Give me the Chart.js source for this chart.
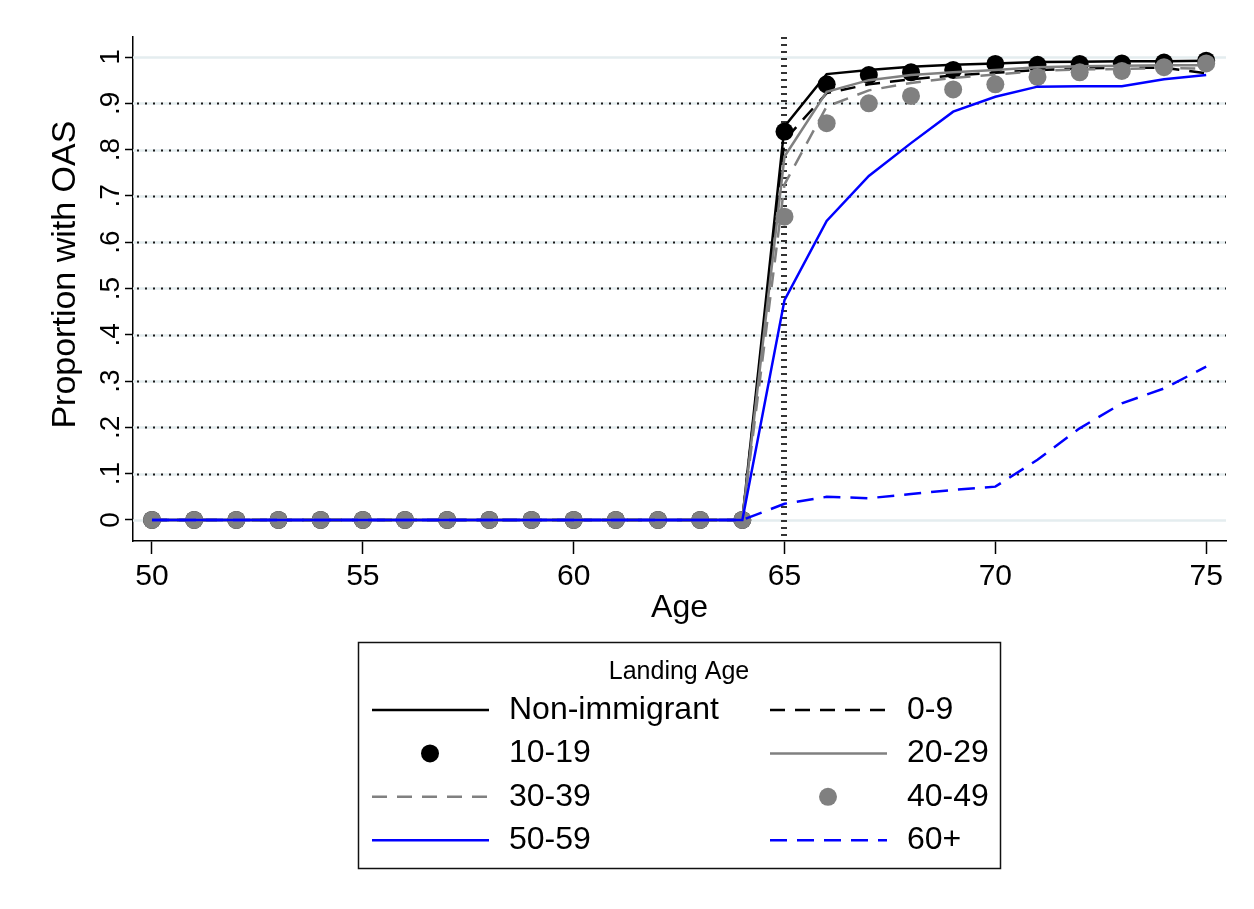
<!DOCTYPE html>
<html>
<head>
<meta charset="utf-8">
<title>Proportion with OAS by age</title>
<script src="https://cdn.jsdelivr.net/npm/chart.js@4.4.1/dist/chart.umd.min.js"></script>
<style>
  html, body { margin: 0; padding: 0; background: #fff; }
</style>
</head>
<body>
<canvas id="oas" width="1254" height="909"></canvas>
<script>
// ages on the x axis
const ages = [50, 51, 52, 53, 54, 55, 56, 57, 58, 59, 60, 61, 62, 63, 64,
              65, 66, 67, 68, 69, 70, 71, 72, 73, 74, 75];
const zeros = [0, 0, 0, 0, 0, 0, 0, 0, 0, 0, 0, 0, 0, 0, 0]; // ages 50-64

// proportion receiving OAS, by landing age group (ages 65-75)
const nonImmigrant = zeros.concat([0.85, 0.963, 0.972, 0.979, 0.983, 0.986, 0.989, 0.99, 0.991, 0.991, 0.992]);
const land0to9     = zeros.concat([0.82, 0.922, 0.941, 0.952, 0.96, 0.966, 0.972, 0.975, 0.977, 0.977, 0.965]);
const land10to19   = zeros.concat([0.839, 0.941, 0.961, 0.967, 0.972, 0.985, 0.983, 0.985, 0.986, 0.988, 0.992]);
const land20to29   = zeros.concat([0.785, 0.925, 0.95, 0.961, 0.967, 0.972, 0.978, 0.98, 0.981, 0.982, 0.982]);
const land30to39   = zeros.concat([0.725, 0.893, 0.928, 0.944, 0.955, 0.962, 0.97, 0.973, 0.974, 0.976, 0.975]);
const land40to49   = zeros.concat([0.655, 0.857, 0.9, 0.916, 0.93, 0.941, 0.957, 0.967, 0.97, 0.978, 0.986]);
const land50to59   = zeros.concat([0.475, 0.646, 0.743, 0.814, 0.882, 0.914, 0.936, 0.937, 0.937, 0.952, 0.961]);
const land60plus   = zeros.concat([0.035, 0.05, 0.047, 0.056, 0.065, 0.072, 0.13, 0.198, 0.252, 0.284, 0.331]);

const xTicks = [50, 55, 60, 65, 70, 75];
const yTicks = [0, 0.1, 0.2, 0.3, 0.4, 0.5, 0.6, 0.7, 0.8, 0.9, 1];
const yTickLabels = ['0', '.1', '.2', '.3', '.4', '.5', '.6', '.7', '.8', '.9', '1'];
const eligibleAge = 65;
const yTitle = 'Proportion with OAS';

const FONT = "'Liberation Sans', Arial, Helvetica, sans-serif";
const GRAY = '#808080';
const BLUE = '#0000ff';

function pts(vals) {
  return vals.map((v, i) => ({ x: ages[i], y: v }));
}
function lineSet(label, vals, color, dash, order) {
  return {
    label, data: pts(vals), order,
    borderColor: color, backgroundColor: color,
    borderWidth: 2.5, borderDash: dash, tension: 0,
    pointRadius: 0, pointHoverRadius: 0
  };
}
function dotSet(label, vals, color, order) {
  return {
    label, data: pts(vals), order, showLine: false,
    borderColor: color, backgroundColor: color,
    pointBackgroundColor: color, pointBorderWidth: 0,
    pointRadius: 9, pointHoverRadius: 9
  };
}

// dotted stata-style grid, the reference line at 65 and the y title
const gridLines = {
  id: 'gridLines',
  beforeDatasetsDraw(chart) {
    const { ctx, chartArea: a, scales: { x, y } } = chart;
    ctx.save();
    yTicks.forEach(v => {
      const py = Math.round(y.getPixelForValue(v)) + 0.5;
      ctx.setLineDash([]);
      ctx.strokeStyle = '#e4edef';
      ctx.lineWidth = 2.5;
      ctx.beginPath(); ctx.moveTo(a.left, py); ctx.lineTo(a.right, py); ctx.stroke();
      if (v > 0 && v < 1) {
        ctx.setLineDash([2, 6]);
        ctx.strokeStyle = '#1a1a1a';
        ctx.lineWidth = 2;
        ctx.beginPath(); ctx.moveTo(a.left + 4, py); ctx.lineTo(a.right, py); ctx.stroke();
      }
    });
    const px = Math.round(x.getPixelForValue(eligibleAge));
    ctx.setLineDash([2, 5]);
    ctx.strokeStyle = '#333';
    ctx.lineWidth = 6;
    ctx.beginPath(); ctx.moveTo(px, a.top); ctx.lineTo(px, a.bottom); ctx.stroke();

    // axis title, read bottom to top
    ctx.setLineDash([]);
    ctx.translate(66, y.getPixelForValue(0.53));
    ctx.rotate(-Math.PI / 2);
    ctx.fillStyle = '#000';
    ctx.font = '34px ' + FONT;
    ctx.textAlign = 'center';
    ctx.textBaseline = 'middle';
    ctx.fillText(yTitle, 0, 0);
    ctx.restore();
  }
};

// two-column boxed legend under the plot
const boxLegend = {
  id: 'boxLegend',
  afterDraw(chart) {
    const ctx = chart.ctx;
    const sets = chart.data.datasets;
    ctx.save();
    ctx.fillStyle = '#fff';
    ctx.fillRect(358, 642, 642, 226);
    ctx.strokeStyle = '#111';
    ctx.lineWidth = 1.5;
    ctx.strokeRect(358.5, 642.5, 642, 226);

    ctx.fillStyle = '#000';
    ctx.textBaseline = 'middle';
    ctx.textAlign = 'center';
    ctx.font = '25px ' + FONT;
    ctx.fillText('Landing Age', 679, 672);

    ctx.font = '32px ' + FONT;
    ctx.textAlign = 'left';
    sets.forEach((ds, i) => {
      const col = i % 2;
      const row = Math.floor(i / 2);
      const sx = col ? 770 : 372;
      const tx = col ? 907 : 509;
      const cy = 710 + row * 43.4;
      if (ds.showLine === false) {
        ctx.fillStyle = ds.pointBackgroundColor;
        ctx.beginPath(); ctx.arc(sx + 58, cy, 9, 0, Math.PI * 2); ctx.fill();
      } else {
        ctx.strokeStyle = ds.borderColor;
        ctx.lineWidth = ds.borderWidth;
        ctx.setLineDash(ds.borderDash || []);
        ctx.beginPath(); ctx.moveTo(sx, cy); ctx.lineTo(sx + 117, cy); ctx.stroke();
        ctx.setLineDash([]);
      }
      ctx.fillStyle = '#000';
      ctx.fillText(ds.label, tx, cy);
    });
    ctx.restore();
  }
};

const datasets = [
  lineSet('Non-immigrant', nonImmigrant, '#000', [], 7),
  lineSet('0-9', land0to9, '#000', [15, 10], 6),
  dotSet('10-19', land10to19, '#000', 5),
  lineSet('20-29', land20to29, GRAY, [], 4),
  lineSet('30-39', land30to39, GRAY, [15, 10], 3),
  dotSet('40-49', land40to49, GRAY, 2),
  lineSet('50-59', land50to59, BLUE, [], 1),
  lineSet('60+', land60plus, BLUE, [17, 10], 0)
];

new Chart(document.getElementById('oas'), {
  type: 'line',
  data: { datasets },
  plugins: [gridLines, boxLegend],
  options: {
    responsive: false,
    animation: false,
    devicePixelRatio: 1,
    layout: { padding: { top: 37, left: 0, right: 28, bottom: 282 } },
    plugins: { legend: { display: false }, tooltip: { enabled: false } },
    scales: {
      x: {
        type: 'linear', min: 49.55, max: 75.47,
        afterBuildTicks: s => { s.ticks = xTicks.map(v => ({ value: v })); },
        afterFit: s => { s.height = 86; },
        grid: { drawOnChartArea: false, tickLength: 13, tickColor: '#000', tickWidth: 1.5 },
        border: { display: true, color: '#000', width: 1.5 },
        ticks: { color: '#000', font: { family: FONT, size: 30 }, padding: 5, maxRotation: 0, autoSkip: false },
        title: { display: true, text: 'Age', color: '#000', font: { family: FONT, size: 32 }, padding: 0 }
      },
      y: {
        type: 'linear', min: -0.0454, max: 1.0432,
        afterBuildTicks: s => { s.ticks = yTicks.map(v => ({ value: v })); },
        afterFit: s => { s.width = 133; },
        grid: { drawOnChartArea: false, tickLength: 8, tickColor: '#000', tickWidth: 1.5 },
        border: { display: true, color: '#000', width: 1.5 },
        ticks: {
          color: '#000', font: { family: FONT, size: 28 }, padding: 2,
          minRotation: 90, maxRotation: 90, crossAlign: 'center', autoSkip: false,
          callback: (v, i) => yTickLabels[i]
        },
        title: { display: false }
      }
    }
  }
});
</script>
</body>
</html>
